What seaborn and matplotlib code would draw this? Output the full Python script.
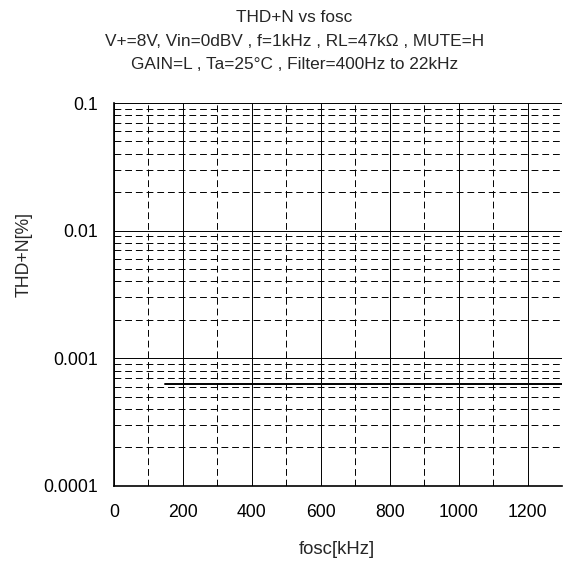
import numpy as np
import pandas as pd
import matplotlib
matplotlib.use("Agg")
import matplotlib.pyplot as plt
from matplotlib.ticker import FixedLocator, NullFormatter, LogLocator
import seaborn as sns

# --- data ---
FOSC_KHZ = [150, 200, 300, 400, 500, 600, 700, 800, 900, 1000, 1100, 1200, 1300]
THDN_PCT = [0.00063, 0.00063, 0.00063, 0.00063, 0.00063, 0.00063, 0.00063,
            0.00063, 0.00063, 0.00063, 0.00063, 0.00063, 0.00063]
X_TICKS = [0, 200, 400, 600, 800, 1000, 1200]
Y_TICKS = [0.0001, 0.001, 0.01, 0.1]
Y_TICK_LABELS = ["0.0001", "0.001", "0.01", "0.1"]

TITLE_LINES = ["THD+N vs fosc",
               "V+=8V, Vin=0dBV , f=1kHz , RL=47k\u03a9 , MUTE=H",
               "GAIN=L , Ta=25\u00b0C , Filter=400Hz to 22kHz"]

sns.set_style("white")
plt.rcParams['font.family'] = ['Liberation Sans', 'DejaVu Sans']

df = pd.DataFrame({'fosc': FOSC_KHZ, 'thdn': THDN_PCT})

fig = plt.figure(figsize=(5.66, 5.63), dpi=100)
ax = fig.add_axes([0.201, 0.137, 0.792, 0.680])

sns.lineplot(data=df, x='fosc', y='thdn', ax=ax, color='black', linewidth=1.4)

ax.set_yscale('log')
ax.set_xlim(0, 1300)
ax.set_ylim(0.0001, 0.1)

ax.xaxis.set_major_locator(FixedLocator(X_TICKS))
ax.xaxis.set_minor_locator(FixedLocator([100, 300, 500, 700, 900, 1100, 1300]))
ax.yaxis.set_major_locator(FixedLocator(Y_TICKS))
ax.yaxis.set_minor_locator(LogLocator(base=10, subs=np.arange(2, 10)))
ax.yaxis.set_minor_formatter(NullFormatter())
ax.set_yticklabels(Y_TICK_LABELS)

ax.grid(which='major', color='black', linestyle='-', linewidth=0.7)
ax.grid(which='minor', color='black', linestyle=(0, (7, 4)), linewidth=0.7)
ax.set_axisbelow(True)

ax.tick_params(which='both', length=0, labelsize=12.7, colors='black')
ax.tick_params(axis='x', pad=13)
ax.tick_params(axis='y', pad=11)
for side in ['top', 'right']:
    ax.spines[side].set_visible(False)
for side in ['left', 'bottom']:
    ax.spines[side].set_color('black')
    ax.spines[side].set_linewidth(1.2)

ax.set_xlabel('')
ax.set_ylabel('')
fig.text(0.595, 0.016, 'fosc[kHz]', fontsize=13.3, ha='center', va='baseline')
fig.text(0.042, 0.548, 'THD+N[%]', rotation=90, fontsize=12.7,
         ha='center', va='center')

# title, three lines
for txt, base_px in zip(TITLE_LINES, [22, 46.5, 69]):
    fig.text(0.52, 1 - base_px / 563, txt, ha='center', va='baseline',
             fontsize=12.4)

fig.savefig('out.png', dpi=100)
